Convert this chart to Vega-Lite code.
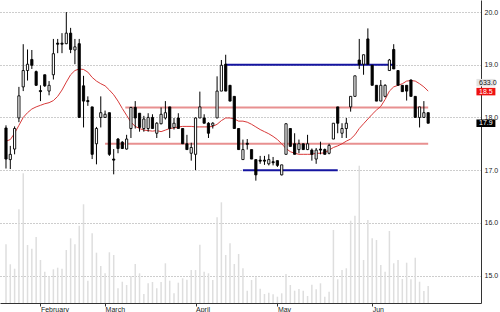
{
  "$schema": "https://vega.github.io/schema/vega-lite/v6.json",
  "width": 481,
  "height": 303,
  "autosize": "none",
  "padding": {"left": 0, "top": 0, "right": 19, "bottom": 9},
  "background": "white",
  "config": {
    "view": {"stroke": null},
    "axis": {"labelFont": "Liberation Sans", "labelFontSize": 7, "labelColor": "#222222", "domainColor": "#333333", "tickColor": "#333333", "title": null}
  },
  "datasets": {
    "candles": [
      {"t":0,"o":17.80,"h":17.85,"l":17.03,"c":17.21,"v":2187,"ma":17.55},
      {"t":1,"o":17.20,"h":17.46,"l":17.02,"c":17.30,"v":1442,"ma":17.58},
      {"t":2,"o":17.40,"h":17.83,"l":17.30,"c":17.79,"v":1278,"ma":17.70},
      {"t":3,"o":17.99,"h":18.58,"l":17.91,"c":18.41,"v":3490,"ma":17.85},
      {"t":4,"o":18.58,"h":19.39,"l":18.50,"c":18.89,"v":4831,"ma":18.00},
      {"t":5,"o":18.89,"h":19.29,"l":18.70,"c":19.01,"v":2161,"ma":18.09},
      {"t":6,"o":19.10,"h":19.28,"l":18.92,"c":18.99,"v":2023,"ma":18.16},
      {"t":7,"o":18.87,"h":18.89,"l":18.60,"c":18.61,"v":2459,"ma":18.20},
      {"t":8,"o":18.51,"h":18.61,"l":18.31,"c":18.49,"v":1602,"ma":18.23},
      {"t":9,"o":18.81,"h":18.81,"l":18.58,"c":18.60,"v":1166,"ma":18.26},
      {"t":10,"o":18.50,"h":18.69,"l":18.42,"c":18.61,"v":1006,"ma":18.28},
      {"t":11,"o":18.81,"h":19.49,"l":18.72,"c":19.21,"v":1255,"ma":18.32},
      {"t":12,"o":19.41,"h":19.49,"l":19.22,"c":19.39,"v":1315,"ma":18.40},
      {"t":13,"o":19.41,"h":19.60,"l":19.22,"c":19.39,"v":1278,"ma":18.52},
      {"t":14,"o":19.40,"h":20.00,"l":19.39,"c":19.60,"v":1974,"ma":18.67},
      {"t":15,"o":19.60,"h":19.70,"l":19.22,"c":19.29,"v":2410,"ma":18.81},
      {"t":16,"o":19.28,"h":19.49,"l":19.01,"c":19.34,"v":2187,"ma":18.89},
      {"t":17,"o":19.40,"h":19.49,"l":17.99,"c":18.00,"v":2879,"ma":18.92},
      {"t":18,"o":18.60,"h":18.79,"l":17.81,"c":18.31,"v":3677,"ma":18.91},
      {"t":19,"o":18.32,"h":18.40,"l":18.22,"c":18.30,"v":831,"ma":18.86},
      {"t":20,"o":18.20,"h":18.20,"l":17.21,"c":17.30,"v":2596,"ma":18.76},
      {"t":21,"o":17.50,"h":17.82,"l":17.11,"c":17.79,"v":1874,"ma":18.69},
      {"t":22,"o":18.00,"h":18.40,"l":17.81,"c":18.09,"v":1378,"ma":18.64},
      {"t":23,"o":18.00,"h":18.13,"l":18.00,"c":18.06,"v":1106,"ma":18.60},
      {"t":24,"o":18.09,"h":18.09,"l":17.27,"c":17.30,"v":1889,"ma":18.52},
      {"t":25,"o":17.21,"h":17.40,"l":16.92,"c":17.19,"v":1788,"ma":18.43},
      {"t":26,"o":17.59,"h":17.61,"l":17.32,"c":17.41,"v":548,"ma":18.31},
      {"t":27,"o":17.53,"h":17.55,"l":17.40,"c":17.41,"v":793,"ma":18.17},
      {"t":28,"o":17.40,"h":17.67,"l":17.39,"c":17.59,"v":671,"ma":18.04},
      {"t":29,"o":17.79,"h":18.20,"l":17.61,"c":18.19,"v":1006,"ma":17.91},
      {"t":30,"o":18.19,"h":18.31,"l":17.79,"c":17.99,"v":1453,"ma":17.83},
      {"t":31,"o":18.08,"h":18.08,"l":17.73,"c":17.81,"v":1106,"ma":17.79},
      {"t":32,"o":17.79,"h":18.03,"l":17.73,"c":17.97,"v":335,"ma":17.76},
      {"t":33,"o":17.79,"h":18.08,"l":17.73,"c":18.00,"v":734,"ma":17.75},
      {"t":34,"o":18.00,"h":18.06,"l":17.79,"c":17.79,"v":782,"ma":17.74},
      {"t":35,"o":17.70,"h":17.91,"l":17.61,"c":17.89,"v":548,"ma":17.75},
      {"t":36,"o":17.88,"h":18.19,"l":17.87,"c":18.06,"v":782,"ma":17.73},
      {"t":37,"o":17.99,"h":18.31,"l":17.96,"c":18.09,"v":1479,"ma":17.76},
      {"t":38,"o":18.20,"h":18.20,"l":17.61,"c":17.79,"v":831,"ma":17.79},
      {"t":39,"o":17.81,"h":17.99,"l":17.77,"c":17.89,"v":361,"ma":17.80},
      {"t":40,"o":17.99,"h":18.08,"l":17.79,"c":17.79,"v":756,"ma":17.82},
      {"t":41,"o":17.79,"h":17.79,"l":17.50,"c":17.50,"v":920,"ma":17.83},
      {"t":42,"o":17.50,"h":17.67,"l":17.39,"c":17.39,"v":868,"ma":17.83},
      {"t":43,"o":17.32,"h":17.52,"l":17.18,"c":17.43,"v":1229,"ma":17.83},
      {"t":44,"o":17.30,"h":18.00,"l":17.00,"c":17.99,"v":1229,"ma":17.82},
      {"t":45,"o":17.99,"h":18.49,"l":17.99,"c":18.20,"v":2172,"ma":17.82},
      {"t":46,"o":17.99,"h":18.06,"l":17.89,"c":17.89,"v":1166,"ma":17.82},
      {"t":47,"o":17.89,"h":17.91,"l":17.61,"c":17.70,"v":1106,"ma":17.82},
      {"t":48,"o":17.85,"h":17.91,"l":17.79,"c":17.89,"v":857,"ma":17.83},
      {"t":49,"o":17.99,"h":18.78,"l":17.99,"c":18.50,"v":3192,"ma":17.87},
      {"t":50,"o":18.50,"h":19.09,"l":18.50,"c":18.99,"v":3751,"ma":17.94},
      {"t":51,"o":19.01,"h":19.19,"l":18.50,"c":18.50,"v":1788,"ma":17.99},
      {"t":52,"o":18.61,"h":18.61,"l":18.31,"c":18.31,"v":2224,"ma":17.99},
      {"t":53,"o":18.40,"h":18.40,"l":17.79,"c":17.79,"v":1453,"ma":17.97},
      {"t":54,"o":17.79,"h":17.79,"l":17.39,"c":17.39,"v":1825,"ma":17.93},
      {"t":55,"o":17.20,"h":17.58,"l":17.20,"c":17.39,"v":1293,"ma":17.93},
      {"t":56,"o":17.51,"h":17.59,"l":17.39,"c":17.49,"v":458,"ma":17.91},
      {"t":57,"o":17.39,"h":17.39,"l":17.21,"c":17.21,"v":857,"ma":17.87},
      {"t":58,"o":17.20,"h":17.20,"l":16.80,"c":16.91,"v":957,"ma":17.82},
      {"t":59,"o":17.19,"h":17.27,"l":17.12,"c":17.17,"v":533,"ma":17.77},
      {"t":60,"o":17.19,"h":17.27,"l":17.10,"c":17.17,"v":335,"ma":17.73},
      {"t":61,"o":17.12,"h":17.30,"l":17.09,"c":17.20,"v":384,"ma":17.69},
      {"t":62,"o":17.16,"h":17.25,"l":17.09,"c":17.14,"v":324,"ma":17.64},
      {"t":63,"o":17.18,"h":17.18,"l":17.06,"c":17.09,"v":235,"ma":17.58},
      {"t":64,"o":16.91,"h":17.10,"l":16.90,"c":17.10,"v":361,"ma":17.50},
      {"t":65,"o":17.30,"h":17.89,"l":17.30,"c":17.88,"v":1080,"ma":17.41},
      {"t":66,"o":17.79,"h":17.79,"l":17.45,"c":17.45,"v":671,"ma":17.35},
      {"t":67,"o":17.50,"h":17.70,"l":17.30,"c":17.30,"v":458,"ma":17.32},
      {"t":68,"o":17.39,"h":17.58,"l":17.32,"c":17.50,"v":522,"ma":17.30},
      {"t":69,"o":17.50,"h":17.50,"l":17.39,"c":17.39,"v":458,"ma":17.30},
      {"t":70,"o":17.39,"h":17.67,"l":17.38,"c":17.50,"v":261,"ma":17.30},
      {"t":71,"o":17.38,"h":17.41,"l":17.18,"c":17.30,"v":682,"ma":17.30},
      {"t":72,"o":17.21,"h":17.42,"l":17.12,"c":17.38,"v":510,"ma":17.32},
      {"t":73,"o":17.40,"h":17.54,"l":17.30,"c":17.38,"v":734,"ma":17.32},
      {"t":74,"o":17.39,"h":17.41,"l":17.30,"c":17.30,"v":235,"ma":17.33},
      {"t":75,"o":17.32,"h":17.50,"l":17.30,"c":17.47,"v":421,"ma":17.38},
      {"t":76,"o":17.59,"h":17.89,"l":17.59,"c":17.89,"v":2719,"ma":17.43},
      {"t":77,"o":18.20,"h":18.20,"l":17.70,"c":17.89,"v":883,"ma":17.46},
      {"t":78,"o":17.70,"h":17.89,"l":17.61,"c":17.79,"v":1229,"ma":17.50},
      {"t":79,"o":17.79,"h":17.99,"l":17.61,"c":17.89,"v":1293,"ma":17.55},
      {"t":80,"o":18.20,"h":18.40,"l":18.11,"c":18.40,"v":3066,"ma":17.59},
      {"t":81,"o":18.40,"h":18.79,"l":18.40,"c":18.79,"v":3252,"ma":17.67},
      {"t":82,"o":19.09,"h":19.49,"l":18.92,"c":19.01,"v":5114,"ma":17.79},
      {"t":83,"o":19.01,"h":19.19,"l":18.81,"c":19.19,"v":1602,"ma":17.88},
      {"t":84,"o":19.49,"h":19.69,"l":19.01,"c":19.01,"v":3092,"ma":17.97},
      {"t":85,"o":18.99,"h":18.99,"l":18.61,"c":18.61,"v":2410,"ma":18.06},
      {"t":86,"o":18.61,"h":18.61,"l":18.31,"c":18.31,"v":2347,"ma":18.14},
      {"t":87,"o":18.31,"h":18.71,"l":18.31,"c":18.61,"v":1416,"ma":18.21},
      {"t":88,"o":18.40,"h":18.63,"l":18.38,"c":18.61,"v":1166,"ma":18.34},
      {"t":89,"o":18.89,"h":19.11,"l":18.89,"c":19.09,"v":2682,"ma":18.50},
      {"t":90,"o":19.29,"h":19.39,"l":18.92,"c":18.92,"v":1479,"ma":18.58},
      {"t":91,"o":18.89,"h":18.89,"l":18.61,"c":18.61,"v":1602,"ma":18.61},
      {"t":92,"o":18.61,"h":18.61,"l":18.49,"c":18.49,"v":894,"ma":18.64},
      {"t":93,"o":18.61,"h":18.61,"l":18.32,"c":18.50,"v":1501,"ma":18.69},
      {"t":94,"o":18.71,"h":18.72,"l":18.40,"c":18.40,"v":883,"ma":18.70},
      {"t":95,"o":18.40,"h":18.40,"l":18.00,"c":18.00,"v":1687,"ma":18.69},
      {"t":96,"o":18.00,"h":18.20,"l":17.81,"c":18.20,"v":793,"ma":18.64},
      {"t":97,"o":18.00,"h":18.31,"l":18.00,"c":18.09,"v":447,"ma":18.58},
      {"t":98,"o":18.09,"h":18.09,"l":17.89,"c":17.89,"v":633,"ma":18.50}
    ],
    "levels": [
      {"t":27.7,"t2":98,"p":18.19,"kind":"red"},
      {"t":23,"t2":98,"p":17.50,"kind":"red"},
      {"t":51,"t2":90.3,"p":19.0,"kind":"blue"},
      {"t":55,"t2":77,"p":17.0,"kind":"blue"}
    ],
    "tags": [
      {"tag":"vol","p":18.66,"label":"633.0","x0":109.2,"x1":113.6,"xt":109.8},
      {"tag":"ma","p":18.49,"label":"18.5","x0":109.2,"x1":113.6,"xt":109.8},
      {"tag":"close","p":17.89,"label":"17.9","x0":109.2,"x1":113.6,"xt":109.8}
    ]
  },
  "layer": [
    {
      "data": {"name": "candles"},
      "mark": {"type": "rule", "color": "#dedede", "strokeWidth": 1.5},
      "encoding": {
        "x": {
          "field": "t", "type": "quantitative",
          "scale": {"domain": [-0.23, 109.1], "nice": false, "zero": false},
          "axis": {
            "orient": "bottom", "values": [8, 23, 44, 63, 85],
            "labelExpr": "datum.value == 8 ? 'February' : datum.value == 23 ? 'March' : datum.value == 44 ? 'April' : datum.value == 63 ? 'May' : 'Jun'",
            "labelAlign": "left", "labelBaseline": "top", "labelPadding": -1, "labelDx": 1, "labelColor": "#222222",
            "tickSize": 3, "grid": false, "labelOverlap": false, "labelFlush": false
          }
        },
        "y": {"field": "v", "type": "quantitative", "scale": {"domain": [0, 11287], "nice": false}, "axis": null},
        "y2": {"datum": 0}
      }
    },
    {
      "layer": [
        {
          "data": {"name": "levels"},
          "mark": {"type": "rule", "strokeWidth": 2},
          "encoding": {
            "x": {"field": "t", "type": "quantitative"},
            "x2": {"field": "t2"},
            "y": {"field": "p", "type": "quantitative", "scale": {"domain": [14.573, 20.134], "nice": false, "zero": false},
              "axis": {"orient": "right", "values": [15, 16, 17, 18, 19, 20], "format": ".1f", "tickSize": 0, "labelPadding": 3, "labelAlign": "left",
                "grid": true, "gridColor": "#9a9a9a", "gridDash": [1, 2], "gridWidth": 1, "domain": true, "domainColor": "#333333"}},
            "color": {"field": "kind", "type": "nominal", "scale": {"domain": ["blue", "red"], "range": ["#1414a0", "#e89090"]}, "legend": null}
          }
        },
        {
          "data": {"name": "candles"},
          "mark": {"type": "line", "color": "#d83a3a", "strokeWidth": 1},
          "encoding": {
            "x": {"field": "t", "type": "quantitative"},
            "y": {"field": "ma", "type": "quantitative"}
          }
        },
        {
          "data": {"name": "candles"},
          "mark": {"type": "rule", "color": "black", "strokeWidth": 1},
          "encoding": {
            "x": {"field": "t", "type": "quantitative"},
            "y": {"field": "l", "type": "quantitative"},
            "y2": {"field": "h"}
          }
        },
        {
          "data": {"name": "candles"},
          "mark": {"type": "bar", "width": 2.2, "stroke": "black", "strokeWidth": 0.9},
          "encoding": {
            "x": {"field": "t", "type": "quantitative"},
            "y": {"field": "o", "type": "quantitative"},
            "y2": {"field": "c"},
            "fill": {"condition": {"test": "datum.c >= datum.o", "value": "white"}, "value": "black"}
          }
        },
        {
          "data": {"name": "tags"},
          "mark": {"type": "bar", "size": 7.5},
          "encoding": {
            "x": {"field": "x0", "type": "quantitative"},
            "x2": {"field": "x1"},
            "y": {"field": "p", "type": "quantitative"},
            "fill": {"field": "tag", "type": "nominal", "scale": {"domain": ["vol", "ma", "close"], "range": ["#e4e4e4", "#ee1111", "#000000"]}, "legend": null}
          }
        },
        {
          "data": {"name": "tags"},
          "mark": {"type": "text", "align": "left", "baseline": "middle", "font": "Liberation Sans", "fontSize": 7},
          "encoding": {
            "x": {"field": "xt", "type": "quantitative"},
            "y": {"field": "p", "type": "quantitative"},
            "text": {"field": "label"},
            "color": {"condition": {"test": "datum.tag == 'vol'", "value": "#111111"}, "value": "white"}
          }
        }
      ]
    }
  ],
  "resolve": {"scale": {"y": "independent"}}
}
